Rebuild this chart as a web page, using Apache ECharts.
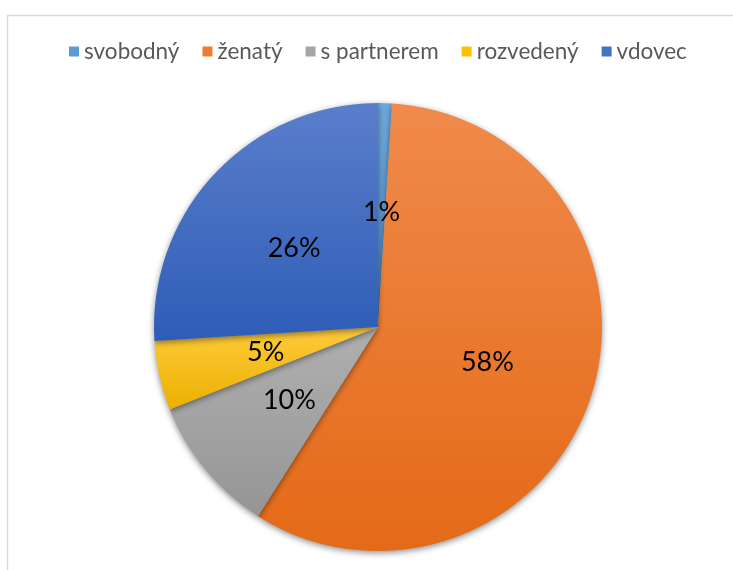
<!DOCTYPE html>
<html>
<head>
<meta charset="utf-8">
<script src="https://cdn.jsdelivr.net/npm/echarts@6/dist/echarts.min.js"></script>
<style>
  html, body { margin: 0; padding: 0; background: #fff; }
  #chart { width: 733px; height: 570px; }
</style>
</head>
<body>
<div id="chart"></div>
<script>
'use strict';
var categories = ['svobodný', 'ženatý', 's partnerem', 'rozvedený', 'vdovec'];
var values = [1, 58, 10, 5, 26];
// light (top) / dark (bottom) shades per slice
var topColors = ['#6FA8DC', '#F08A4B', '#B0B0B0', '#FFCB3A', '#5A7ECB'];
var bottomColors = ['#4F8FCF', '#E46A17', '#959595', '#EBB000', '#2E5DB7'];
var legendColors = ['#5B9BD5', '#ED7D31', '#A5A5A5', '#FFC000', '#4472C4'];

var myChart = echarts.init(document.getElementById('chart'));

var data = [];
for (var i = 0; i < categories.length; i++) {
    data.push({
        name: categories[i],
        value: values[i],
        itemStyle: {
            color: new echarts.graphic.LinearGradient(0, 0, 0, 1, [
                {offset: 0, color: topColors[i]},
                {offset: 1, color: bottomColors[i]}
            ])
        }
    });
}

var option = {
    animation: false,
    color: legendColors,
    graphic: [{
        type: 'rect',
        shape: {x: 7.5, y: 15.5, width: 800, height: 600},
        style: {fill: 'none', stroke: '#d9d9d9', lineWidth: 1.5},
        silent: true
    }],
    legend: {
        top: 35,
        left: 64,
        itemWidth: 10,
        itemHeight: 10,
        itemGap: 23,
        icon: 'rect',
        textStyle: {fontFamily: 'Lato', fontSize: 22.5, color: '#595959'},
        data: categories.map(function (c, i) {
            return {name: c, itemStyle: {color: legendColors[i]}};
        })
    },
    series: [{
        type: 'pie',
        center: [378, 327],
        radius: 224,
        startAngle: 90,
        clockwise: true,
        label: {
            show: true,
            position: 'inside',
            formatter: '{d}%',
            fontFamily: 'Lato',
            fontSize: 27,
            color: '#000'
        },
        labelLine: {show: false},
        itemStyle: {
            shadowBlur: 6,
            shadowOffsetY: 2,
            shadowColor: 'rgba(0,0,0,0.45)'
        },
        emphasis: {disabled: true},
        data: data
    }]
};
myChart.setOption(option);
</script>
</body>
</html>
